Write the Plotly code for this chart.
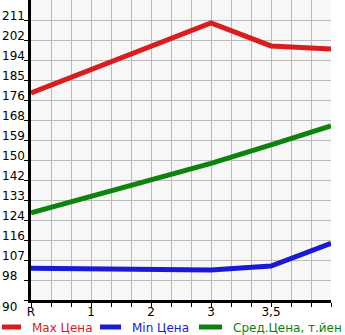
import numpy as np
import plotly.graph_objects as go

categories = ["R", "1", "2", "3", "3,5", ""]
max_price = [179.5, 189.5, 199.8, 209.7, 199.8, 198.5]
min_price = [103.7, 103.6, 103.4, 103.0, 104.7, 114.5]
avg_price = [127.7, 134.8, 141.9, 149.0, 157.0, 165.2]
y_tick_labels = ["90", "98", "107", "116", "124", "133", "142", "150",
                 "159", "168", "176", "185", "194", "202", "211"]
series_names = ["Max Цена", "Min Цена", "Сред.Цена, т.йен"]
series_colors = ["#da1c1c", "#1a1ad4", "#0d820d"]

y_min = 90.0
y_step = 8.643
y_max = y_min + y_step * 15
y_ticks = [y_min + i * y_step for i in range(len(y_tick_labels))]
xs = list(range(len(categories)))

fig = go.Figure()
for name, vals, col in zip(series_names, [max_price, min_price, avg_price], series_colors):
    fig.add_trace(go.Scatter(x=xs, y=vals, mode="lines", name=name,
                             line=dict(color=col, width=5), showlegend=False))

font = "DejaVu Sans"
fig.update_layout(
    width=345, height=335,
    margin=dict(l=31, r=14, t=0, b=35),
    paper_bgcolor="white", plot_bgcolor="#f7f7f7",
    xaxis=dict(range=[0, 5], tickvals=xs, ticktext=categories,
               showgrid=True, gridcolor="#bbbbbb", gridwidth=1,
               ticks="outside", ticklen=4, tickcolor="black",
               ticklabelstandoff=-5,
               minor=dict(dtick=1/3, showgrid=True, gridcolor="#bbbbbb",
                          ticks="outside", ticklen=4, tickcolor="black"),
               showline=True, linecolor="black", linewidth=3,
               zeroline=False, tickfont=dict(family=font, size=12, color="black")),
    yaxis=dict(range=[y_min, y_max], tickvals=y_ticks, showticklabels=False,
               showgrid=True, gridcolor="#bbbbbb", gridwidth=1,
               ticks="outside", ticklen=4, tickcolor="black",
               showline=True, linecolor="black", linewidth=3, zeroline=False),
    showlegend=False,
)

for i, (v, lab) in enumerate(zip(y_ticks, y_tick_labels)):
    fig.add_annotation(x=-31/300, xref="paper", y=v, yref="y", text=lab,
                       xanchor="left", yanchor="middle", showarrow=False,
                       yshift=(-7 if i == 0 else 4),
                       font=dict(family=font, size=12, color="black"))

# manual legend
leg = [(2, 21, 30), (100, 121, 130), (199, 222, 231)]
for (x0, x1, tx), name, col in zip(leg, series_names, series_colors):
    fig.add_shape(type="line", xref="paper", yref="paper",
                  x0=(x0 - 31) / 300, x1=(x1 - 31) / 300,
                  y0=(300 - 327) / 300, y1=(300 - 327) / 300,
                  line=dict(color=col, width=5))
    fig.add_annotation(x=(tx - 31) / 300, xref="paper", y=(300 - 328) / 300, yref="paper",
                       text=name, xanchor="left", yanchor="middle", showarrow=False,
                       font=dict(family=font, size=12, color=col))

fig.write_html("out.html")
